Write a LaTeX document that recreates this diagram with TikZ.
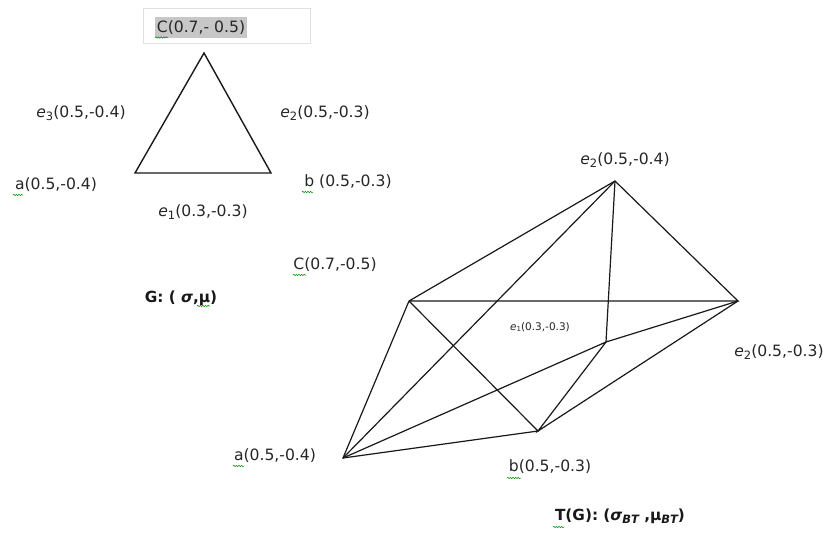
\documentclass[tikz,border=0pt]{standalone}
\usepackage{fontspec}
\setmainfont{DejaVu Sans}
\usetikzlibrary{decorations.pathmorphing}
\newcommand\lowsub[1]{\raisebox{-0.4ex}{\fontsize{11.5}{11}\selectfont #1}}
\begin{document}
\begin{tikzpicture}[x=1pt,y=-1pt,
  lbl/.style={inner sep=0pt, text=black!85, font=\fontsize{15.6}{18}\selectfont},
  captext/.style={inner sep=0pt, text=black!90, font=\fontsize{15.3}{18}\selectfont\bfseries},
  small/.style={inner sep=0pt, text=black!85, font=\fontsize{10.5}{12}\selectfont},
  edge/.style={line width=1.2pt, black!90},
  squig/.style={decorate, decoration={snake,amplitude=0.7pt,segment length=2.6pt}, green!55!black, line width=0.5pt}]
\useasboundingbox[fill=white] (0,0) rectangle (828,542);
% ---- small triangle G
\coordinate (ga) at (135,173);
\coordinate (gb) at (271,173);
\coordinate (gc) at (204,53);
\draw[edge, line width=1.4pt] (ga) -- (gb) -- (gc) -- cycle;
% top label box
\draw[black!12, line width=0.6pt] (143,8) rectangle (310,43);
\fill[black!22] (155,17) rectangle (247,38);
\node[lbl] (lc1) at (201,28) {C(0.7,- 0.5)};
\draw[squig] (155,37.5) -- (168,37.5);
\node[lbl] (le3) at (81,113) {{\itshape e}\lowsub{3}(0.5,-0.4)};
\node[lbl] (le2a) at (325,113) {{\itshape e}\lowsub{2}(0.5,-0.3)};
\node[lbl] (la1) at (56,185) {a(0.5,-0.4)};
\draw[squig] (13,195) -- (23,195);
\node[lbl] (lb1) at (348,182) {b (0.5,-0.3)};
\draw[squig] (302,192) -- (313,192);
\node[lbl] (le1) at (203,212) {{\itshape e}\lowsub{1}(0.3,-0.3)};
\node[lbl] (lc2) at (335,265) {C(0.7,-0.5)};
\draw[squig] (293,275) -- (306,275);
\node[captext] (gcap) at (181,298) {G: ( {\itshape σ},μ)};
\draw[squig] (197,306) -- (210,306);
% ---- big figure T(G)
\coordinate (T) at (615,181);
\coordinate (R) at (738,301);
\coordinate (L) at (409,301);
\coordinate (M) at (606,342);
\coordinate (A) at (343,458);
\coordinate (B) at (538,431);
\draw[edge] (L) -- (T) -- (R) -- (L);
\draw[edge] (T) -- (M) -- (R);
\draw[edge] (L) -- (A) -- (B) -- (L);
\draw[edge] (A) -- (T);
\draw[edge] (A) -- (M) -- (B) -- (R);
\node[lbl] (le2b) at (625,160) {{\itshape e}\lowsub{2}(0.5,-0.4)};
\node[lbl] (le2c) at (779,352) {{\itshape e}\lowsub{2}(0.5,-0.3)};
\node[small] (le1b) at (540,327) {{\itshape e}\raisebox{-0.3ex}{\fontsize{7}{7}\selectfont 1}(0.3,-0.3)};
\node[lbl] (la2) at (275,456) {a(0.5,-0.4)};
\draw[squig] (233,466) -- (244,466);
\node[lbl] (lb2) at (550,467) {b(0.5,-0.3)};
\draw[squig] (507,478) -- (521,478);
\node[captext] (tcap) at (620,516) {T(G): ({\itshape σ}\lowsub{\itshape BT} ,μ\lowsub{\itshape BT})};
\draw[squig] (553,527) -- (564,527);
\end{tikzpicture}
\end{document}
